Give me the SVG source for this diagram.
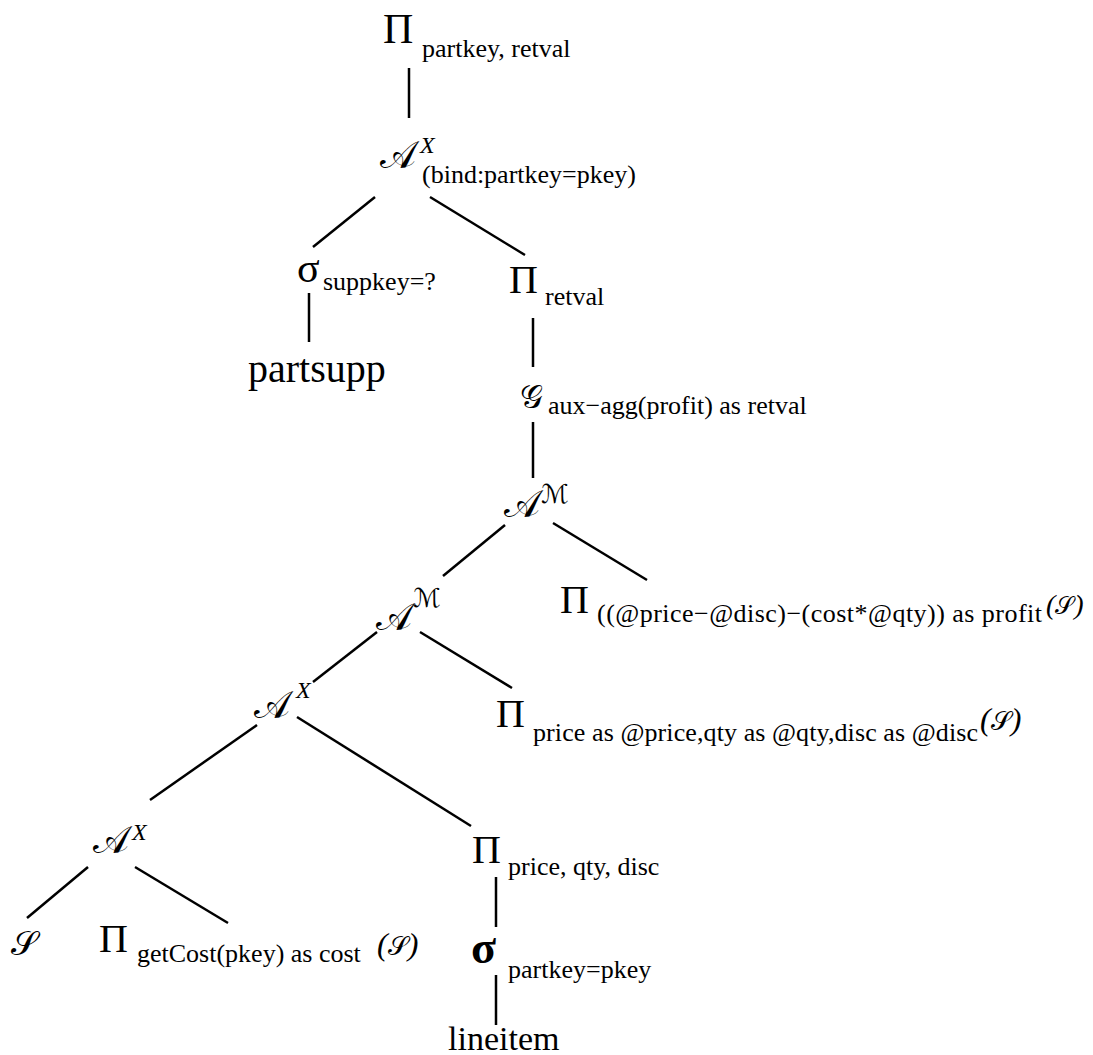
<svg xmlns="http://www.w3.org/2000/svg" width="1093" height="1055" viewBox="0 0 1093 1055">
<style>
text{font-family:"Liberation Serif","Times New Roman",serif;fill:#000}
.op{font-size:40px}
.sub{font-size:26px}
.cal{font-family:"DejaVu Serif","DejaVu Sans","Liberation Serif",serif;font-size:38px}
.sup{font-family:"Liberation Serif",serif;font-style:italic;font-size:24px}
.supm{font-family:"DejaVu Serif","DejaVu Sans",serif;font-size:26px}
.par{font-size:32px;font-style:italic}
.ps{font-family:"DejaVu Serif","DejaVu Sans",serif;font-size:26px;font-style:normal}
.conn line{stroke:#000;stroke-width:2.5;stroke-linecap:butt}
</style>
<rect width="1093" height="1055" fill="#fff"/>
<g id="connectors" class="conn">
<line x1="409" y1="68" x2="409" y2="118"/>
<line x1="375" y1="197" x2="313" y2="247"/>
<line x1="430" y1="197" x2="525" y2="255"/>
<line x1="309" y1="293" x2="309" y2="342"/>
<line x1="533" y1="318" x2="533" y2="367"/>
<line x1="533" y1="422" x2="533" y2="478"/>
<line x1="505" y1="525" x2="443" y2="576"/>
<line x1="553" y1="523" x2="647" y2="580"/>
<line x1="377" y1="632" x2="313" y2="682"/>
<line x1="420" y1="632" x2="512" y2="688"/>
<line x1="257" y1="725" x2="150" y2="800"/>
<line x1="297" y1="717" x2="471" y2="826"/>
<line x1="88" y1="867" x2="27" y2="918"/>
<line x1="135" y1="867" x2="228" y2="923"/>
<line x1="496" y1="877" x2="496" y2="927"/>
<line x1="496" y1="975" x2="496" y2="1025"/>
</g>
<g id="n-proj-top">
<text x="383" y="43" style="font-size:42px">Π</text>
<text class="sub" x="422" y="57">partkey, retval</text>
</g>
<g id="n-apply-bind">
<text class="cal" x="380" y="168">𝒜</text>
<text class="sup" x="420" y="153">X</text>
<text class="sub" x="422" y="183">(bind:partkey=pkey)</text>
</g>
<g id="n-sel-suppkey">
<text x="297" y="282" style="font-size:42px">σ</text>
<text class="sub" x="323" y="290">suppkey=?</text>
</g>
<g id="n-partsupp">
<text x="248" y="382" style="font-size:40px">partsupp</text>
</g>
<g id="n-proj-retval">
<text class="op" x="509" y="293">Π</text>
<text class="sub" x="545" y="305">retval</text>
</g>
<g id="n-group">
<text class="cal" x="520" y="408" style="font-size:32px">𝒢</text>
<text class="sub" x="548" y="414">aux−agg(profit) as retval</text>
</g>
<g id="n-apply-m1">
<text class="cal" x="504" y="517">𝒜</text>
<text class="supm" x="541" y="503">ℳ</text>
</g>
<g id="n-proj-profit">
<text class="op" x="560" y="613">Π</text>
<text class="sub" x="597" y="622" textLength="445" lengthAdjust="spacing">((@price−@disc)−(cost*@qty)) as profit</text>
<text class="par" x="1046" y="614" style="font-size:28px">(<tspan class="ps" style="font-size:24px">𝒮</tspan>)</text>
</g>
<g id="n-apply-m2">
<text class="cal" x="376" y="630">𝒜</text>
<text class="supm" x="413" y="607">ℳ</text>
</g>
<g id="n-proj-price">
<text class="op" x="496" y="727">Π</text>
<text class="sub" x="533" y="741" textLength="445" lengthAdjust="spacing">price as @price,qty as @qty,disc as @disc</text>
<text class="par" x="980" y="730">(<tspan class="ps">𝒮</tspan>)</text>
</g>
<g id="n-apply-x1">
<text class="cal" x="254" y="718">𝒜</text>
<text class="sup" x="296" y="698">X</text>
</g>
<g id="n-apply-x2">
<text class="cal" x="93" y="853">𝒜</text>
<text class="sup" x="132" y="840">X</text>
</g>
<g id="n-proj-pqd">
<text class="op" x="472" y="863">Π</text>
<text class="sub" x="508" y="875">price, qty, disc</text>
</g>
<g id="n-sel-partkey">
<text x="471" y="963" style="font-size:46px;font-weight:bold">σ</text>
<text class="sub" x="508" y="978">partkey=pkey</text>
</g>
<g id="n-lineitem">
<text x="448" y="1050" style="font-size:34px">lineitem</text>
</g>
<g id="n-s">
<text class="cal" x="11" y="955" style="font-size:34px">𝒮</text>
</g>
<g id="n-proj-cost">
<text class="op" x="99" y="952">Π</text>
<text class="sub" x="137" y="962">getCost(pkey) as cost</text>
<text class="par" x="377" y="955">(<tspan class="ps">𝒮</tspan>)</text>
</g>
</svg>
